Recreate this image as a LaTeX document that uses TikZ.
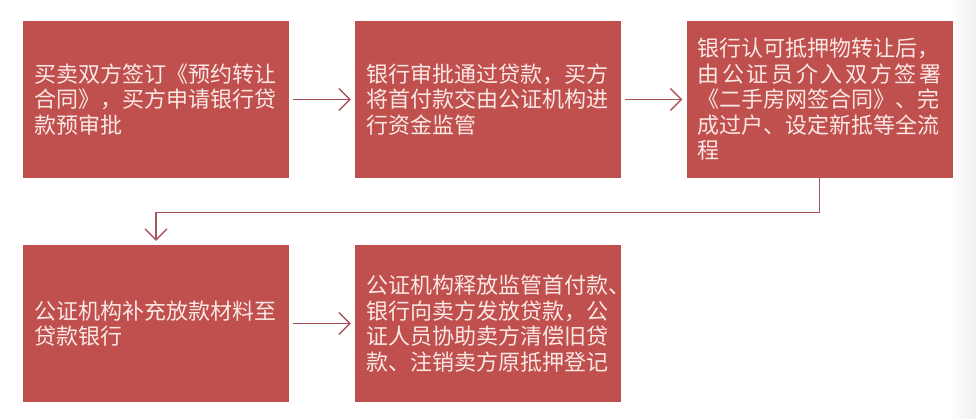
\documentclass[tikz,border=0pt]{standalone}
\usepackage{fontspec}
\newfontfamily\cjk{Noto Sans CJK SC}
\usetikzlibrary{arrows.meta}
\definecolor{boxred}{RGB}{192,80,77}
\definecolor{boxtext}{RGB}{250,232,230}
\definecolor{linkred}{RGB}{172,84,92}
\tikzset{
  stepbox/.style={fill=boxred, draw=none, minimum width=266pt, minimum height=157pt,
    inner sep=0pt, text=boxtext, align=left, text width=244pt,
    font=\cjk\fontsize{22}{25.5}\selectfont},
  link/.style={draw=linkred, line width=1.4pt,
    -{Straight Barb[length=11pt,width=22pt,line width=1.4pt]},
    shorten <=4pt, shorten >=4pt}
}
\begin{document}
\begin{tikzpicture}[x=1pt,y=-1pt]
\useasboundingbox (0,0) rectangle (976,418);
\shade[left color=white, right color=black!6] (950,0) rectangle (976,418);
\node[stepbox] (b1) at (156,99.5) {买卖双方签订《预约转让\\合同》，买方申请银行贷\\款预审批};
\node[stepbox] (b2) at (488,99.5) {银行审批通过贷款，买方\\将首付款交由公证机构进\\行资金监管};
\node[stepbox] (b3) at (819.5,99.5) {银行认可抵押物转让后，\\\leavevmode\hbox to 244pt{由\hfil 公\hfil 证\hfil 员\hfil 介\hfil 入\hfil 双\hfil 方\hfil 签\hfil 署}\\《二手房网签合同》、完\\成过户、设定新抵等全流\\程};
\node[stepbox] (b4) at (156,323.5) {公证机构补充放款材料至\\贷款银行};
\node[stepbox] (b5) at (488,323.5) {公证机构释放监管首付款、\\银行向卖方发放贷款，公\\证人员协助卖方清偿旧贷\\款、注销卖方原抵押登记};
\draw[link] (b1) -- (b2);
\draw[link] (b2) -- (b3);
\draw[link, shorten <=0pt] (b3.south) -- ++(0,34) -| (b4.north);
\draw[link] (b4) -- (b5);
\end{tikzpicture}
\end{document}
